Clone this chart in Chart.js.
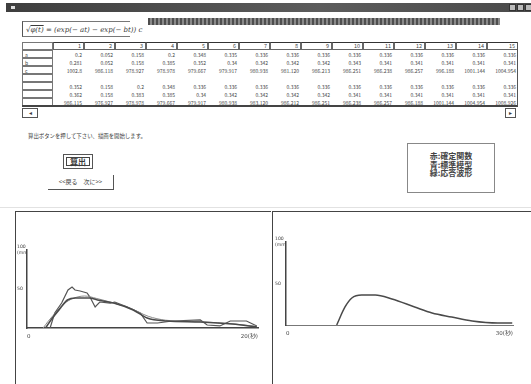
<!DOCTYPE html>
<html>
<head>
<meta charset="utf-8" />
<title>応答波形</title>
<script src="https://cdn.jsdelivr.net/npm/chart.js"></script>
<style>
  body { margin:0; width:531px; height:384px; position:relative; overflow:hidden; background:#fff;
         font-family:"Noto Sans CJK JP", sans-serif; color:#3a3a3a; }
  .abs { position:absolute; }
  #titlebar { left:6px; top:3px; width:525px; height:9px; background:linear-gradient(90deg,#3e3e3e,#5c5c5c 60%,#4a4a4a); }
  #titlebar .ico { position:absolute; left:5px; top:3px; width:4px; height:3px; background:#ddd; }
  #titlebar .btn { position:absolute; top:1px; width:7px; height:7px; background:#bbb; border:1px solid #333; box-sizing:border-box; }
  #band { left:148px; top:18px; width:352px; height:7px;
          background:repeating-linear-gradient(90deg,#4e4e4e 0 2px,#8a8a8a 2px 4px); }
  #formula { left:22px; top:21px; width:108px; height:16px; border-top:1px solid #777; border-left:1px solid #555;
             border-bottom:1px solid #777; font:italic 7px "DejaVu Serif", serif; line-height:16px; padding-left:3px; box-sizing:border-box; white-space:nowrap; }
  .cell { position:absolute; box-sizing:border-box; font-size:5px; line-height:7px; text-align:right; padding-right:2px; color:#444; white-space:nowrap; }
  .hd { border:1px solid #666; border-top-color:#333; font-size:5.5px; line-height:6px; }
  .lab { border:1px solid #777; text-align:left; padding-left:2px; }
  #msg { left:28px; top:132px; font-size:5.4px; white-space:nowrap; }
  #calc { left:63px; top:154px; width:30px; height:15px; border:1px solid #555; box-sizing:border-box; }
  #calc div { position:absolute; left:2px; top:2px; right:2px; bottom:2px; border:1.5px solid #444; font-weight:bold; font-size:8px; line-height:8px; text-align:center; }
  #nav { left:48px; top:175px; width:65px; height:14px; border-right:1px solid #555; border-bottom:1px solid #555; font-size:6px; line-height:14px; text-align:center; white-space:nowrap; }
  #legend { left:407px; top:143px; width:88px; height:50px; border:1px solid #888; box-sizing:border-box; font-size:8px; line-height:8.6px; text-align:center; font-weight:bold; padding-top:8px; color:#444; }
  .panel { position:absolute; border-top:1.5px solid #444; border-left:1.5px solid #444; box-sizing:border-box; }
</style>
</head>
<body>
<div id="titlebar" class="abs"><div class="ico"></div>
  <div class="btn" style="left:503px"></div><div class="btn" style="left:511px"></div><div class="btn" style="left:519px"></div></div>
<div id="band" class="abs"></div>
<div id="formula" class="abs">√<span style="text-decoration:overline">φ(t)</span> = (exp(− at) − exp(− bt)) c</div>
<div id="table" class="abs" style="left:0;top:0"></div>
<div class="abs" style="left:22px;top:108px;width:16px;height:10px;border:1px solid #555;box-sizing:border-box;font-size:6px;line-height:8px;text-align:center">◂</div>
<div class="abs" style="left:505px;top:108px;width:11px;height:10px;border:1px solid #555;box-sizing:border-box;font-size:6px;line-height:8px;text-align:center">▸</div>
<div id="msg" class="abs">算出ボタンを押して下さい、描画を開始します。</div>
<div id="calc" class="abs"><div>算出</div></div>
<div id="nav" class="abs">&lt;&lt;戻る　次に&gt;&gt;</div>
<div id="legend" class="abs">赤:確定関数<br>青:標準模型<br>緑:応答波形</div>
<div class="abs" style="left:0;top:207px;width:531px;height:1px;background:#e2e2e2"></div>

<div class="panel" style="left:15px;top:211px;width:256px;height:173px"></div>
<div class="panel" style="left:272px;top:211px;width:259px;height:173px"></div>
<canvas id="leftChart" class="abs" width="255" height="173" style="left:15px;top:211px"></canvas>
<canvas id="rightChart" class="abs" width="258" height="173" style="left:273px;top:211px"></canvas>

<script>
// table values
const colNums = [1, 2, 3, 4, 5, 6, 7, 8, 9, 10, 11, 12, 13, 14, 15];
const rowLabels = ['a', 'b', 'c', '', '', '', ''];
const rowA = ['0.2', '0.052', '0.158', '0.2', '0.348', '0.335', '0.336', '0.336', '0.336', '0.336', '0.336', '0.336', '0.336', '0.336', '0.336'];
const rowB = ['0.281', '0.052', '0.158', '0.385', '0.352', '0.34', '0.342', '0.342', '0.342', '0.343', '0.341', '0.341', '0.341', '0.341', '0.341'];
const rowC = ['1002.8', '986.118', '978.927', '978.978', '979.667', '979.917', '980.938', '981.120', '986.213', '986.251', '986.238', '986.257', '996.188', '1001.144', '1004.954'];
const rowD = ['0.352', '0.158', '0.2', '0.348', '0.336', '0.336', '0.336', '0.336', '0.336', '0.336', '0.336', '0.336', '0.336', '0.336', '0.336'];
const rowE = ['0.362', '0.158', '0.383', '0.385', '0.34', '0.342', '0.342', '0.342', '0.342', '0.341', '0.341', '0.341', '0.341', '0.341', '0.341'];
const rowF = ['986.115', '976.927', '978.978', '979.667', '979.917', '980.938', '983.120', '986.212', '986.251', '986.238', '986.257', '986.188', '1001.144', '1004.954', '1008.926'];

// left chart: time (s) and amplitude (mm)
const fitT = [1.6, 2.2, 2.9, 3.5, 4.2, 5.4, 6.1, 7.5, 9.2, 10.4, 12.1, 15.0, 17.8, 19.9];
const fitV = [0, 12.8, 25.6, 35.9, 38.5, 38.5, 35.9, 32.1, 23.1, 12.8, 9.0, 7.7, 5.1, 1.3];
const stdT = [1.4, 1.8, 2.5, 3.2, 4.0, 5.0, 6.0, 7.5, 9.0, 10.5, 12.0, 15.0, 18.0, 19.9];
const stdV = [0, 8, 20, 31, 38, 41, 38, 32, 25, 15, 10, 8, 5, 2];
const respT = [2.0, 2.4, 3.0, 3.55, 3.9, 4.16, 4.6, 5.2, 5.45, 5.9, 6.3, 7.2, 7.6, 8.7, 9.8, 10.4, 11.3, 12.6, 15.0, 15.6, 16.7, 17.6, 19.0, 19.9];
const respV = [0, 19.2, 32, 48.7, 52.6, 48.7, 47.4, 44.9, 39.7, 26.9, 33.3, 32, 33.3, 26.9, 19.2, 6.4, 6.4, 9, 10.3, 3.8, 2.6, 9, 9, 2.6];

// right chart
const rightT = [6.7, 7.8, 8.7, 10.0, 11.8, 14.0, 17.0, 19.3, 21.9, 24.6, 28.0, 29.9];
const rightV = [0, 21.7, 32.5, 36.1, 36.1, 31.3, 21.7, 14.5, 9.6, 4.8, 2.4, 2.4];

// tick labels
const yTicks = [50, 100];
const yTickLabels = ['50', ['100', '(mm)']];
const leftXTicks = [0, 20];
const leftXLabels = ['0', '20(秒)'];
const rightXTicks = [0, 30];
const rightXLabels = ['0', '30(秒)'];

// build table
const tbl = document.getElementById('table');
function cell(cls, x, y, w, h, txt) {
  const d = document.createElement('div');
  d.className = 'cell ' + cls;
  Object.assign(d.style, { left: x + 'px', top: y + 'px', width: w + 'px', height: h + 'px' });
  d.textContent = txt;
  tbl.appendChild(d);
}
const colX0 = 53, colW = 31;
const rowTops = [50, 58, 66, 74, 82, 90, 98];
const dataRows = [rowA, rowB, rowC, null, rowD, rowE, rowF];
cell('lab', 22, 42, 31, 8, '');
rowTops.forEach((y, r) => cell('lab', 22, y, 31, 8, rowLabels[r]));
colNums.forEach((n, i) => cell('hd', colX0 + i * colW, 42, colW, 8, n));
dataRows.forEach((row, r) => {
  if (!row) return;
  row.forEach((v, i) => cell('', colX0 + i * colW, rowTops[r] + 1, colW, 7, v));
});
const edge = document.createElement('div');
edge.className = 'abs';
Object.assign(edge.style, { left: '22px', top: '42px', width: '496px', height: '65px', borderRight: '1px solid #555', borderBottom: '2px solid #444', boxSizing: 'border-box' });
tbl.appendChild(edge);

const pts = (t, v) => t.map((x, i) => ({ x: x, y: v[i] }));
const tickFont = { size: 5.5, family: 'DejaVu Sans' };
const yFont = { size: 4.6, family: 'DejaVu Sans', lineHeight: 1.3 };

function yScale(width) {
  return {
    min: 0, max: 100,
    afterBuildTicks: s => { s.ticks = yTicks.map(v => ({ value: v })); },
    afterFit: s => { s.width = width; },
    ticks: { padding: 2, crossAlign: 'far', font: yFont, color: '#444', callback: v => yTickLabels[yTicks.indexOf(v)] },
    grid: { display: false, drawTicks: false },
    border: { color: '#444', width: 1.5 }
  };
}
function xScale(max, ticks, labels, height, border) {
  return {
    type: 'linear', min: 0, max: max,
    afterBuildTicks: s => { s.ticks = ticks.map(v => ({ value: v })); },
    afterFit: s => { s.height = height; },
    ticks: { align: 'inner', padding: 5, font: tickFont, color: '#444', maxRotation: 0, callback: v => labels[ticks.indexOf(v)] },
    grid: { display: false, drawTicks: false },
    border: border
  };
}

new Chart(document.getElementById('leftChart'), {
  type: 'line',
  data: {
    datasets: [
      { label: '確定関数', data: pts(fitT, fitV), borderColor: '#4a4a4a', borderWidth: 1.6, pointRadius: 0, tension: 0.4, cubicInterpolationMode: 'monotone' },
      { label: '標準模型', data: pts(stdT, stdV), borderColor: '#8a8a8a', borderWidth: 1, pointRadius: 0, tension: 0.4, cubicInterpolationMode: 'monotone' },
      { label: '応答波形', data: pts(respT, respV), borderColor: '#555', borderWidth: 1.2, pointRadius: 0, tension: 0 }
    ]
  },
  options: {
    animation: false, responsive: false,
    layout: { padding: { left: 2, top: 39, right: 12, bottom: 0 } },
    plugins: { legend: { display: false }, tooltip: { enabled: false } },
    scales: {
      x: xScale(20, leftXTicks, leftXLabels, 56, { color: '#444', width: 1.5 }),
      y: yScale(10)
    }
  }
});

new Chart(document.getElementById('rightChart'), {
  type: 'line',
  data: {
    datasets: [
      { label: '応答波形', data: pts(rightT, rightV), borderColor: '#4a4a4a', borderWidth: 1.5, pointRadius: 0, tension: 0.4, cubicInterpolationMode: 'monotone' }
    ]
  },
  options: {
    animation: false, responsive: false,
    layout: { padding: { left: 2, top: 31, right: 18, bottom: 0 } },
    plugins: { legend: { display: false }, tooltip: { enabled: false } },
    scales: {
      x: xScale(30, rightXTicks, rightXLabels, 59, { color: '#777', width: 1, dash: [3, 3] }),
      y: yScale(11)
    }
  }
});
</script>
</body>
</html>
